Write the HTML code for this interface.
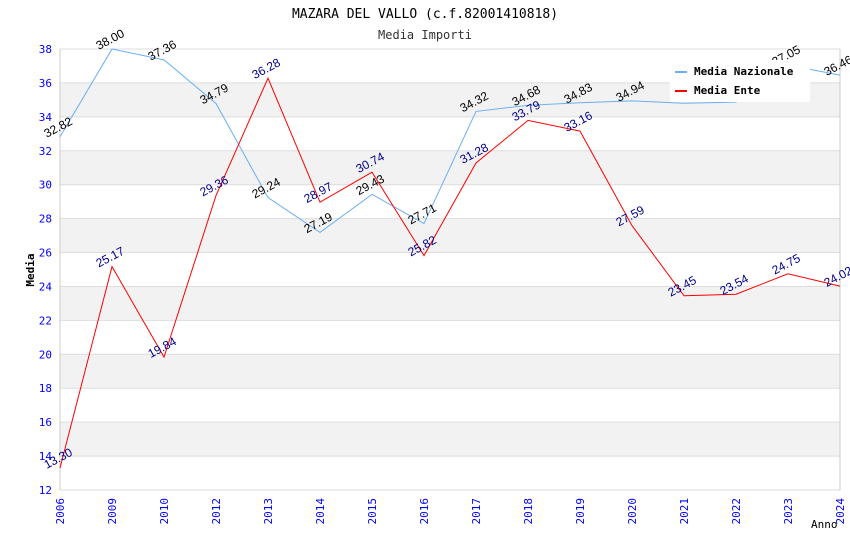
<!DOCTYPE html>
<html><head><meta charset="utf-8"><style>
body{margin:0;background:#fff;}
svg{display:block;font-family:"DejaVu Sans Mono","Liberation Mono",monospace;}
.vl{font-family:"Liberation Sans","DejaVu Sans",sans-serif;}
</style></head><body>
<svg id="chart" width="850" height="550">
<text x="425" y="18" text-anchor="middle" font-size="13" fill="#000">MAZARA DEL VALLO (c.f.82001410818)</text>
<text x="425" y="39" text-anchor="middle" font-size="12" fill="#333">Media Importi</text>
<g id="bands"></g><g id="grid"></g><g id="axes"></g><g id="lines"></g><g id="labels"></g>
<g>
<rect x="670" y="60" width="140" height="42" fill="#fff"/>
<line x1="675" y1="72" x2="687" y2="72" stroke="#6aaef5" stroke-width="2"/>
<text x="694" y="75" font-size="11" font-weight="bold">Media Nazionale</text>
<line x1="675" y1="91" x2="687" y2="91" stroke="#f00" stroke-width="2"/>
<text x="694" y="94" font-size="11" font-weight="bold">Media Ente</text>
</g>
<text x="34" y="270" font-size="11" font-weight="bold" transform="rotate(-90 34 270)" text-anchor="middle">Media</text>
<text x="811" y="528" font-size="11">Anno</text>
</svg>
<script>
const categories=["2006","2009","2010","2012","2013","2014","2015","2016","2017","2018","2019","2020","2021","2022","2023","2024"];
const nazionale=[32.82,38.00,37.36,34.79,29.24,27.19,29.43,27.71,34.32,34.68,34.83,34.94,34.80,34.87,37.05,36.46];
const ente=[13.30,25.17,19.84,29.36,36.28,28.97,30.74,25.82,31.28,33.79,33.16,27.59,23.45,23.54,24.75,24.02];
const yTicks=[12,14,16,18,20,22,24,26,28,30,32,34,36,38];
const hiddenNazLabels=["2021","2022"];
const NS="http://www.w3.org/2000/svg";
const L=60,R=840,T=49,B=490,yMin=12,yMax=38;
const x=i=>L+i*(R-L)/(categories.length-1);
const y=v=>B-(v-yMin)/(yMax-yMin)*(B-T);
function mk(p,tag,a){const e=document.createElementNS(NS,tag);for(const k in a)e.setAttribute(k,a[k]);document.getElementById(p).appendChild(e);return e;}
for(let i=0;i<yTicks.length-1;i++){
 if(i%2===1){const r=mk('bands','rect',{x:L,y:y(yTicks[i+1]),width:R-L,height:y(yTicks[i])-y(yTicks[i+1]),fill:'#f2f2f2'});
 
 }
}
yTicks.forEach(t=>{
 const g=mk('grid','line',{x1:L,x2:R,y1:y(t),y2:y(t),stroke:'#ddd'});
 
 
 const tx=mk('axes','text',{x:L-8,y:y(t)+4,'text-anchor':'end','font-size':11,fill:'#00f'});tx.textContent=t;
 
 
});
mk('axes','line',{x1:L,x2:L,y1:T,y2:B,stroke:'#ccc'});
mk('axes','line',{x1:R,x2:R,y1:T,y2:B,stroke:'#ccc'});
categories.forEach((c,i)=>{
 const tx=mk('axes','text',{x:0,y:0,'font-size':11,fill:'#00f','text-anchor':'end',transform:`translate(${x(i)+4},${B+8}) rotate(-90)`});tx.textContent=c;
 
 
});
function series(vals,color,lc,name){
 const p=mk('lines','polyline',{points:vals.map((v,i)=>x(i)+','+y(v)).join(' '),fill:'none',stroke:color,'stroke-width':1});
 
 
 vals.forEach((v,i)=>{
  if(name==='nazionale'&&hiddenNazLabels.includes(categories[i]))return;
  const t=mk('labels','text',{x:0,y:0,'font-size':12,fill:lc,'text-anchor':'middle','class':'vl',transform:`translate(${x(i)},${y(v)-6}) rotate(-28)`});
  t.textContent=v.toFixed(2);
  
  
 });
}
series(nazionale,'#6aaef5','#000','nazionale');
series(ente,'#f00','#00008b','ente');
</script>
</body></html>
